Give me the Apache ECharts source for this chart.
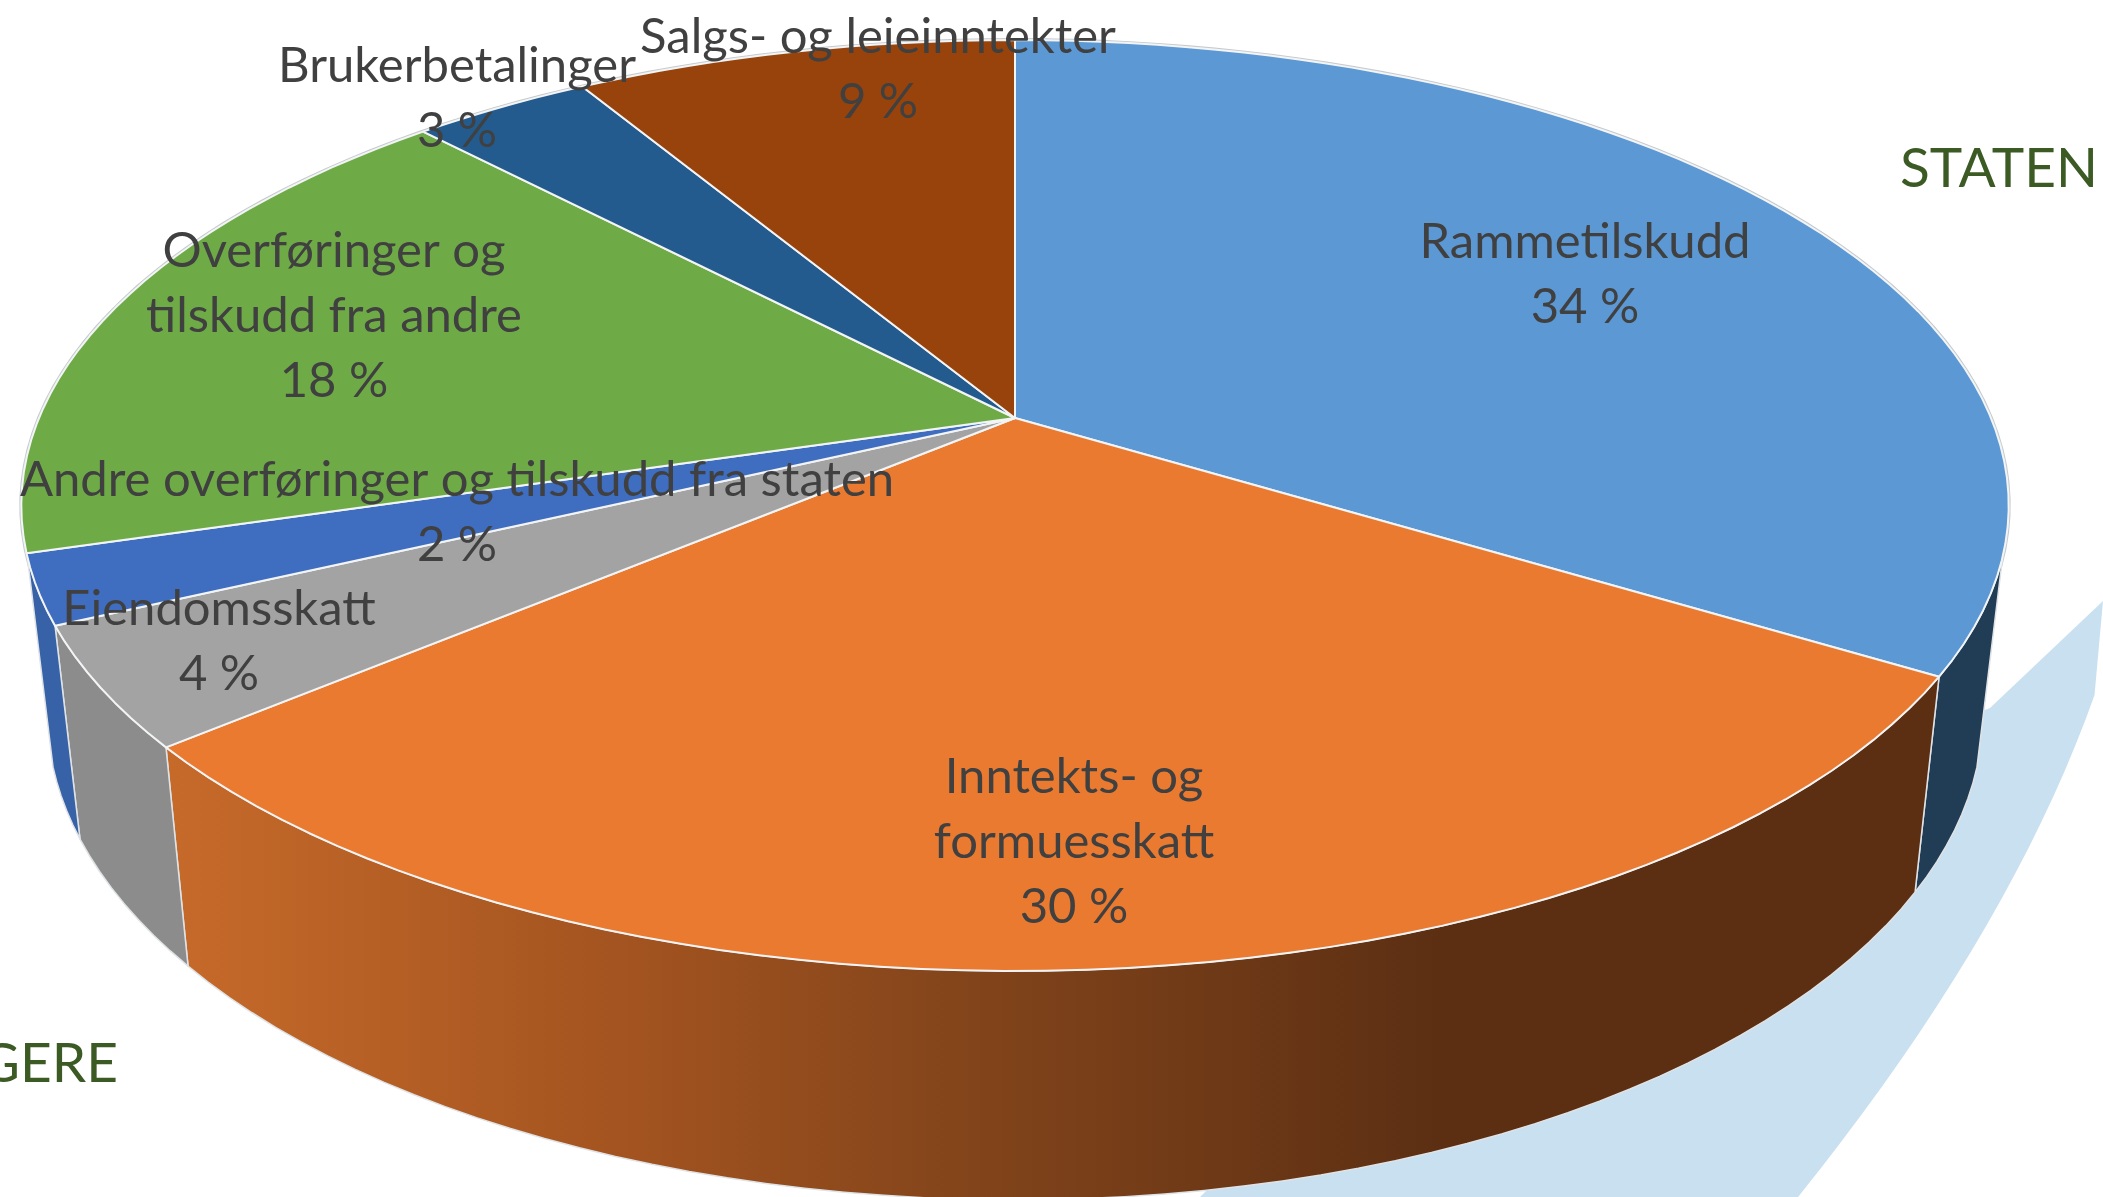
<!DOCTYPE html>
<html>
<head>
<meta charset="utf-8">
<title>Inntekter</title>
<script src="https://cdn.jsdelivr.net/npm/echarts@6/dist/echarts.min.js"></script>
<style>
  html, body { margin: 0; padding: 0; background: #fff; overflow: hidden; }
  #chart { width: 2103px; height: 1197px; }
</style>
</head>
<body>
<div id="chart"></div>
<script>
const navn = [
  'Rammetilskudd',
  'Inntekts- og\nformuesskatt',
  'Eiendomsskatt',
  'Andre overføringer og tilskudd fra staten',
  'Overføringer og\ntilskudd fra andre',
  'Brukerbetalinger',
  'Salgs- og leieinntekter',
]
const andeler = [33.7, 30.15, 4.15, 2.4, 17.5, 3.49, 8.61]

// farger og plassering, holdes utenfor dataene
const farger = ['#5b98d4', '#ea7a30', '#a3a3a3', '#3f6dbf', '#6eab46', '#245b8e', '#97430b']
const sidefarger = ['#213d55', null, '#8c8c8c', '#3762a8', '#4c7a30', '#1a4268', '#6b3008']
const etikettX = [1585, 1074, 219, 457, 334, 457, 878]
const etikettY = [275, 842, 642, 513, 316, 99, 70]

const tekstfarge = '#404040'
const gronn = '#3b5a24'
const font = 'Lato'

// perspektiv for toppflaten (sirkel -> ellipse, sentrum forskjøvet)
const cx = 1015
const cy = 418
const R = 976
const Ry = 449
const k = 0.188

// bare denne delen av sideflaten synes forfra
const sideFra = 107
const sideTil = 253

function topp(grader) {
  const a = (grader * Math.PI) / 180
  const w = 1 + k * Math.cos(a)
  return [cx + (R * Math.sin(a)) / w, cy - (Ry * Math.cos(a)) / w]
}

function bunn(p) {
  return [cx + 0.974 * (p[0] - cx), 622 + 1.045 * (p[1] - cy)]
}

function bue(fra, til) {
  const punkter = []
  const n = Math.max(2, Math.ceil((til - fra) / 2))
  for (let i = 0; i <= n; i++) {
    punkter.push(topp(fra + ((til - fra) * i) / n))
  }
  return punkter
}

const sum = andeler.reduce((a, b) => a + b, 0)
let akk = 0
const sektorer = andeler.map((verdi, i) => {
  const fra = (akk / sum) * 360
  akk += verdi
  return [fra, (akk / sum) * 360, i]
})

const oransjeSide = {
  type: 'linear',
  global: true,
  x: 170,
  y: 0,
  x2: 1440,
  y2: 0,
  colorStops: [
    { offset: 0, color: '#c66a2a' },
    { offset: 0.35, color: '#a45420' },
    { offset: 0.65, color: '#80431a' },
    { offset: 1, color: '#5c2f13' },
  ],
}

// blå bue bak kaken, ytterkanten er en kvadratisk kurve
function bakgrunnsbue() {
  const punkter = [[2103, 601], [1990, 708], [1500, 900], [1200, 1197]]
  for (let t = 1; t >= 0; t -= 0.05) {
    const s = 1 - t
    punkter.push([
      s * s * 2103 + 2 * s * t * 2022 + t * t * 1798,
      s * s * 670 + 2 * s * t * 918 + t * t * 1197,
    ])
  }
  return punkter
}

function tegnSide(params, api) {
  const i = api.value(2)
  const fra = Math.max(api.value(0), sideFra)
  const til = Math.min(api.value(1), sideTil)
  if (til <= fra) return null
  const rand = bue(fra, til)
  const nede = rand.map(bunn).reverse()
  return {
    type: 'polygon',
    shape: { points: rand.concat(nede) },
    style: {
      fill: sidefarger[i] || oransjeSide,
      stroke: '#dfe3e6',
      lineWidth: 1.5,
      lineJoin: 'round',
    },
  }
}

function tegnTopp(params, api) {
  const rand = bue(api.value(0), api.value(1))
  return {
    type: 'polygon',
    shape: { points: [[cx, cy]].concat(rand) },
    style: {
      fill: farger[api.value(2)],
      stroke: '#f2f4f6',
      lineWidth: 2,
      lineJoin: 'round',
    },
  }
}

function tegnEtikett(params, api) {
  const i = api.value(2)
  return {
    type: 'text',
    style: {
      x: etikettX[i],
      y: etikettY[i],
      text: navn[i] + '\n' + Math.round(andeler[i]) + ' %',
      align: 'center',
      verticalAlign: 'middle',
      fill: tekstfarge,
      font: '49px ' + font,
      lineHeight: 65,
    },
  }
}

const myChart = echarts.init(document.getElementById('chart'), null, { renderer: 'canvas' })
myChart.setOption({
  animation: false,
  backgroundColor: '#ffffff',
  graphic: [
    {
      type: 'polygon',
      z: -2,
      silent: true,
      shape: { points: bakgrunnsbue() },
      style: { fill: '#c9e0f0' },
    },
    {
      type: 'polygon',
      z: -1,
      silent: true,
      shape: { points: bue(0, 360) },
      style: { fill: '#ffffff', stroke: '#c6cacd', lineWidth: 4 },
    },
    {
      type: 'text',
      silent: true,
      style: { x: 1900, y: 169, text: 'STATEN', fill: gronn, font: '55px ' + font, verticalAlign: 'middle' },
    },
    {
      type: 'text',
      silent: true,
      style: { x: 118, y: 1064, text: 'GERE', fill: gronn, font: '55px ' + font, align: 'right', verticalAlign: 'middle' },
    },
  ],
  series: [
    { type: 'custom', coordinateSystem: 'none', silent: true, z: 2, renderItem: tegnSide, data: sektorer },
    { type: 'custom', coordinateSystem: 'none', silent: true, z: 3, renderItem: tegnTopp, data: sektorer },
    { type: 'custom', coordinateSystem: 'none', silent: true, z: 4, renderItem: tegnEtikett, data: sektorer },
  ],
})
</script>
</body>
</html>
